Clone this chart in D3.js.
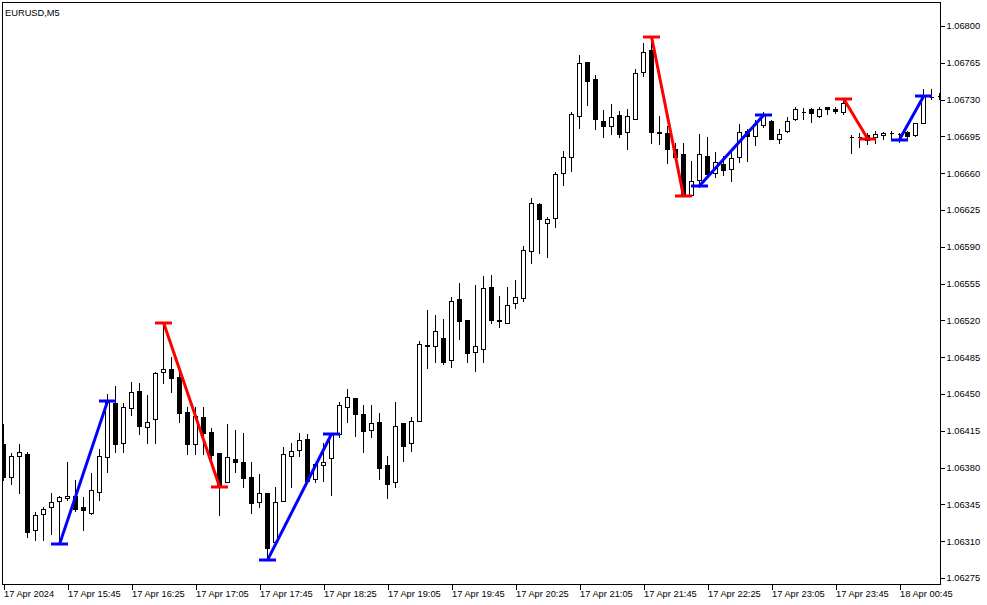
<!DOCTYPE html>
<html>
<head>
<meta charset="utf-8">
<script src="https://cdn.jsdelivr.net/npm/d3@7"></script>
<style>
  html, body { margin: 0; padding: 0; background: #fff; }
  svg { display: block; }
  text { font-family: "Liberation Sans", Arial, sans-serif; }
</style>
</head>
<body>
<svg id="chart" width="987" height="605"></svg>
<script>
// ---------------- DATA (EURUSD, M5) ----------------
const title = "EURUSD,M5";

const open = [
 1.06402,1.06371,1.06391,1.06393,1.06321,1.06336,1.06343,1.06348,1.06351,1.06353,
 1.06343,1.06337,1.06357,1.06390,1.06441,1.06403,1.06437,1.06453,1.06419,1.06426,
 1.06471,1.06474,1.06466,1.06433,1.06402,1.06428,1.06414,1.06394,1.06366,1.06388,
 1.06385,1.06371,1.06347,1.06356,1.06309,1.06348,1.06391,1.06397,1.06407,1.06369,
 1.06382,1.06389,1.06412,1.06438,1.06446,1.06431,1.06416,1.06423,1.06382,1.06366,
 1.06422,1.06403,1.06424,1.06496,1.06496,1.06503,1.06482,1.06540,1.06520,1.06490,
 1.06493,1.06552,1.06520,1.06518,1.06537,1.06541,1.06586,1.06631,1.06613,1.06617,
 1.06660,1.06675,1.06714,1.06766,1.06750,1.06710,1.06705,1.06715,1.06699,1.06712,
 1.06756,1.06777,1.06699,1.06698,1.06683,1.06678,1.06639,1.06654,1.06676,1.06660,
 1.06669,1.06664,1.06675,1.06700,1.06695,1.06706,1.06710,1.06693,1.06700,1.06712,
 1.06718,1.06721,1.06714,1.06723,1.06721,1.06718,1.06694,1.06694,1.06696,1.06694,
 1.06696,1.06698,1.06697,1.06699,1.06696,1.06708,1.06732,1.06733
];
const high = [
 1.06421,1.06394,1.06402,1.06395,1.06338,1.06343,1.06356,1.06353,1.06385,1.06368,
 1.06352,1.06375,1.06398,1.06450,1.06458,1.06441,1.06461,1.06460,1.06449,1.06471,
 1.06518,1.06485,1.06471,1.06438,1.06438,1.06438,1.06418,1.06394,1.06421,1.06416,
 1.06413,1.06385,1.06374,1.06356,1.06362,1.06400,1.06403,1.06413,1.06412,1.06384,
 1.06403,1.06412,1.06442,1.06455,1.06446,1.06440,1.06440,1.06432,1.06391,1.06442,
 1.06422,1.06428,1.06500,1.06530,1.06525,1.06521,1.06542,1.06556,1.06520,1.06554,
 1.06562,1.06563,1.06543,1.06552,1.06558,1.06591,1.06636,1.06632,1.06618,1.06661,
 1.06681,1.06718,1.06772,1.06766,1.06753,1.06720,1.06726,1.06719,1.06721,1.06759,
 1.06784,1.06790,1.06714,1.06705,1.06689,1.06689,1.06672,1.06697,1.06694,1.06680,
 1.06676,1.06680,1.06707,1.06702,1.06711,1.06718,1.06711,1.06702,1.06713,1.06723,
 1.06722,1.06722,1.06723,1.06723,1.06723,1.06731,1.06696,1.06698,1.06698,1.06700,
 1.06699,1.06700,1.06698,1.06700,1.06708,1.06740,1.06740,1.06736
];
const low = [
 1.06368,1.06364,1.06356,1.06314,1.06311,1.06311,1.06317,1.06307,1.06349,1.06339,
 1.06321,1.06336,1.06349,1.06376,1.06395,1.06395,1.06430,1.06412,1.06403,1.06403,
 1.06460,1.06452,1.06423,1.06393,1.06393,1.06393,1.06383,1.06335,1.06366,1.06376,
 1.06362,1.06337,1.06343,1.06292,1.06309,1.06348,1.06362,1.06391,1.06367,1.06366,
 1.06367,1.06354,1.06409,1.06423,1.06410,1.06395,1.06409,1.06369,1.06351,1.06362,
 1.06386,1.06396,1.06424,1.06475,1.06480,1.06479,1.06476,1.06502,1.06480,1.06472,
 1.06480,1.06518,1.06514,1.06518,1.06532,1.06538,1.06575,1.06584,1.06580,1.06609,
 1.06649,1.06662,1.06703,1.06725,1.06702,1.06694,1.06697,1.06694,1.06683,1.06712,
 1.06752,1.06689,1.06688,1.06670,1.06673,1.06638,1.06639,1.06647,1.06656,1.06656,
 1.06658,1.06653,1.06671,1.06672,1.06687,1.06704,1.06693,1.06689,1.06699,1.06711,
 1.06712,1.06709,1.06713,1.06716,1.06717,1.06716,1.06679,1.06685,1.06688,1.06689,
 1.06693,1.06692,1.06690,1.06693,1.06695,1.06708,1.06731,1.06731
];
const close = [
 1.06371,1.06391,1.06395,1.06319,1.06335,1.06341,1.06347,1.06352,1.06353,1.06341,
 1.06340,1.06359,1.06391,1.06442,1.06402,1.06438,1.06452,1.06420,1.06423,1.06470,
 1.06474,1.06465,1.06432,1.06402,1.06429,1.06413,1.06392,1.06362,1.06390,1.06385,
 1.06370,1.06346,1.06356,1.06304,1.06347,1.06393,1.06396,1.06406,1.06367,1.06383,
 1.06385,1.06412,1.06440,1.06447,1.06431,1.06415,1.06422,1.06380,1.06364,1.06420,
 1.06401,1.06424,1.06498,1.06497,1.06510,1.06480,1.06538,1.06519,1.06489,1.06496,
 1.06551,1.06520,1.06519,1.06535,1.06542,1.06587,1.06632,1.06616,1.06616,1.06659,
 1.06675,1.06716,1.06765,1.06748,1.06712,1.06705,1.06713,1.06697,1.06714,1.06755,
 1.06775,1.06699,1.06698,1.06683,1.06675,1.06638,1.06653,1.06678,1.06659,1.06671,
 1.06663,1.06674,1.06699,1.06695,1.06707,1.06715,1.06693,1.06697,1.06710,1.06721,
 1.06718,1.06717,1.06721,1.06721,1.06719,1.06727,1.06694,1.06694,1.06692,1.06697,
 1.06698,1.06698,1.06697,1.06695,1.06708,1.06733,1.06732,1.06733
];

// ZigZag legs: start bar index, end bar index, start price, end price
const zzStartIdx   = [7, 20, 33, 81, 87, 105, 112];
const zzEndIdx     = [13, 27, 41, 85, 95, 108, 115];
const zzStartPrice = [1.06307, 1.06518, 1.06292, 1.06790, 1.06648, 1.06731, 1.06692];
const zzEndPrice   = [1.06443, 1.06362, 1.06412, 1.06638, 1.06715, 1.06693, 1.06733];

// Time axis labels (bar index -> label)
const timeTickIdx = [0, 8, 16, 24, 32, 40, 48, 56, 64, 72, 80, 88, 96, 104, 112];
const timeTickLabels = ["17 Apr 2024", "17 Apr 15:45", "17 Apr 16:25", "17 Apr 17:05",
  "17 Apr 17:45", "17 Apr 18:25", "17 Apr 19:05", "17 Apr 19:45", "17 Apr 20:25",
  "17 Apr 21:05", "17 Apr 21:45", "17 Apr 22:25", "17 Apr 23:05", "17 Apr 23:45",
  "18 Apr 00:45"];

// Price axis labels
const priceTicks = [1.06275, 1.06310, 1.06345, 1.06380, 1.06415, 1.06450, 1.06485, 1.06520,
  1.06555, 1.06590, 1.06625, 1.06660, 1.06695, 1.06730, 1.06765, 1.06800];

// ---------------- DRAW ----------------
const W = 987, H = 605;
const plot = { left: 2.5, right: 940.5, top: 2.5, bottom: 584.5 };
const svg = d3.select("#chart");
svg.append("rect").attr("width", W).attr("height", H).attr("fill", "#fff");

const bars = open.map((o, i) => ({ i, o, h: high[i], l: low[i], c: close[i] }));

const x = d3.scaleLinear().domain([0, bars.length - 1]).range([3.5, 3.5 + 8 * (bars.length - 1)]);
const y = d3.scaleLinear().domain([1.06275, 1.06800]).range([578, 26]);
const sy = v => Math.round(y(v)) + 0.5;

svg.append("defs").append("clipPath").attr("id", "clip")
  .append("rect").attr("x", 3).attr("y", 3).attr("width", 937).attr("height", 581);

const g = svg.append("g").attr("clip-path", "url(#clip)");

// wicks
g.append("g").selectAll("line").data(bars).join("line")
  .attr("x1", d => x(d.i)).attr("x2", d => x(d.i))
  .attr("y1", d => sy(d.h) - 0.5).attr("y2", d => sy(d.l) + 0.5)
  .attr("stroke", "#000").attr("stroke-width", 1).attr("shape-rendering", "crispEdges");

// bodies
g.append("g").selectAll("path").data(bars).join("path")
  .attr("d", d => {
    const x0 = x(d.i) - 2, x1 = x(d.i) + 2;
    const y0 = sy(Math.max(d.o, d.c)), y1 = sy(Math.min(d.o, d.c));
    return `M${x0},${y0}H${x1}V${y1}H${x0}Z`;
  })
  .attr("fill", d => d.c < d.o ? "#000" : "#fff")
  .attr("stroke", "#000").attr("stroke-width", 1)
  .attr("shape-rendering", "crispEdges");

// zigzag
const legs = zzStartIdx.map((s, k) => ({
  s, e: zzEndIdx[k], ps: zzStartPrice[k], pe: zzEndPrice[k],
  color: zzEndPrice[k] > zzStartPrice[k] ? "#0000ff" : "#ff0000"
}));
const zg = g.append("g");
legs.forEach(L => {
  zg.append("line")
    .attr("x1", x(L.s)).attr("y1", y(L.ps)).attr("x2", x(L.e)).attr("y2", y(L.pe))
    .attr("stroke", L.color).attr("stroke-width", 3);
  [[L.s, L.ps], [L.e, L.pe]].forEach(([i, p]) => {
    zg.append("line")
      .attr("x1", x(i) - 8.5).attr("x2", x(i) + 8.5)
      .attr("y1", Math.round(y(p))).attr("y2", Math.round(y(p)))
      .attr("stroke", L.color).attr("stroke-width", 3);
  });
});

// frame
svg.append("rect")
  .attr("x", plot.left).attr("y", plot.top)
  .attr("width", plot.right - plot.left).attr("height", plot.bottom - plot.top)
  .attr("fill", "none").attr("stroke", "#000").attr("stroke-width", 1)
  .attr("shape-rendering", "crispEdges");

// price axis
const yAxis = d3.axisRight(y).tickValues(priceTicks)
  .tickFormat(d3.format(".5f")).tickSize(4).tickPadding(2);
const ya = svg.append("g").attr("transform", `translate(${plot.right},0)`).call(yAxis);
ya.select(".domain").remove();
ya.selectAll(".tick line").attr("stroke", "#000").attr("shape-rendering", "crispEdges");
ya.selectAll(".tick text").attr("font-family", "'Liberation Sans', Arial, sans-serif")
  .attr("font-size", "9.3px").attr("fill", "#000").attr("x", 6);

// time axis
const xAxis = d3.axisBottom(x).tickValues(timeTickIdx)
  .tickFormat((d, k) => timeTickLabels[k]).tickSize(5).tickPadding(2);
const xa = svg.append("g").attr("transform", `translate(0,${plot.bottom})`).call(xAxis);
xa.select(".domain").remove();
xa.selectAll(".tick line").attr("stroke", "#000").attr("shape-rendering", "crispEdges");
xa.selectAll(".tick text").attr("font-family", "'Liberation Sans', Arial, sans-serif")
  .attr("font-size", "9.3px").attr("fill", "#000")
  .attr("text-anchor", "start").attr("x", 0).attr("y", 6).attr("dy", "0.71em");

// title
svg.append("text").attr("x", 5).attr("y", 15.5)
  .attr("font-size", "9.3px").attr("fill", "#000").text(title);
</script>
</body>
</html>
